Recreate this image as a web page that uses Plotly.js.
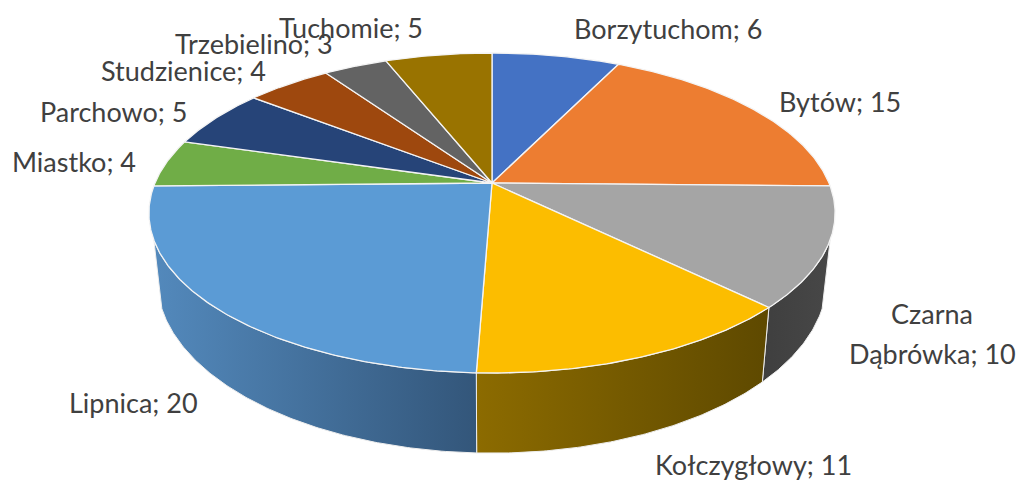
<!DOCTYPE html>
<html><head><meta charset="utf-8">
<script src="https://cdn.plot.ly/plotly-3.0.1.min.js"></script>
<style>html,body{margin:0;padding:0;background:#fff}#c{width:1019px;height:481px}</style>
</head><body><div id="c"></div>
<script>
const categories = ['Borzytuchom','Bytów','Czarna Dąbrówka','Kołczygłowy','Lipnica','Miastko','Parchowo','Studzienice','Trzebielino','Tuchomie'];
const values = [6,15,10,11,20,4,5,4,3,5];
const topColors = ['#4472c4','#ed7d31','#a5a5a5','#fcbd00','#5b9bd5','#70ad47','#264478','#9e480e','#636363','#997300'];
const labelText = ['Borzytuchom; 6','Bytów; 15','Czarna','Dąbrówka; 10','Kołczygłowy; 11','Lipnica; 20','Miastko; 4','Parchowo; 5','Studzienice; 4','Trzebielino; 3','Tuchomie; 5'];
const labelX = [668,840,932,932,753,133,74,114,183,254,351];
const labelY = [28.5,101.5,313.5,353.5,464,402.5,161.5,111.5,70.5,43.5,27.5];

const topDisc = {cx:492, cy:183, a:337, b:154.4, k:0.1875};
const baseDisc = {cx:492, cy:247, a:329, b:167.5, k:0.1875};
const wallStart = {2:110.2};
const wallEnd = {4:249.8};
const wallLeft = {2:'#3f3f3f',3:'#8c6b00',4:'#5389bc'};
const wallRight = {2:'#474747',3:'#5e4900',4:'#33567a'};

function project(d, deg){
  const t = deg*Math.PI/180, u = Math.sin(t), v = -Math.cos(t), w = 1-d.k*v;
  return [d.cx + d.a*u/w, d.cy + d.b*v/w];
}
function arc(d, from, to){
  const n = Math.max(2, Math.ceil(Math.abs(to-from)*2)), pts=[];
  for(let i=0;i<=n;i++) pts.push(project(d, from+(to-from)*i/n));
  return pts;
}
const total = values.reduce((a,b)=>a+b,0);
let acc = 0;
const angles = values.map(v=>{const s=acc; acc+=v; return [s/total*360, acc/total*360];});

const traces = [];
[2,3,4].forEach(i=>{
  const s = wallStart[i] || angles[i][0];
  const e = wallEnd[i] || angles[i][1];
  const pts = arc(topDisc,s,e).concat(arc(baseDisc,e,s));
  pts.push(pts[0]);
  const xs = pts.map(p=>p[0]);
  traces.push({type:'scatter',mode:'lines',x:xs,y:pts.map(p=>p[1]),fill:'toself',
    fillgradient:{type:'horizontal',start:Math.min(...xs),stop:Math.max(...xs),colorscale:[[0,wallLeft[i]],[1,wallRight[i]]]},
    line:{color:'#eeeeee',width:1},hoverinfo:'skip',showlegend:false});
});
categories.forEach((c,i)=>{
  const pts = [[topDisc.cx,topDisc.cy]].concat(arc(topDisc,angles[i][0],angles[i][1]));
  pts.push(pts[0]);
  traces.push({type:'scatter',mode:'lines',name:c,x:pts.map(p=>p[0]),y:pts.map(p=>p[1]),fill:'toself',
    fillcolor:topColors[i],line:{color:'#f4f4f4',width:1.3},hoverinfo:'name',showlegend:false});
});
const annotations = labelText.map((t,i)=>({xref:'x',yref:'y',x:labelX[i],y:labelY[i],text:t,showarrow:false,
  xanchor:'center',yanchor:'middle',align:'center',font:{family:'Lato, Carlito, sans-serif',size:27,color:'#404040'}}));
Plotly.newPlot('c',traces,{
  width:1019,height:481,margin:{l:0,r:0,t:0,b:0},paper_bgcolor:'#fff',plot_bgcolor:'#fff',
  xaxis:{range:[0,1019],visible:false,fixedrange:true},
  yaxis:{range:[481,0],visible:false,fixedrange:true},
  annotations,showlegend:false
},{displayModeBar:false,staticPlot:true});
</script></body></html>
